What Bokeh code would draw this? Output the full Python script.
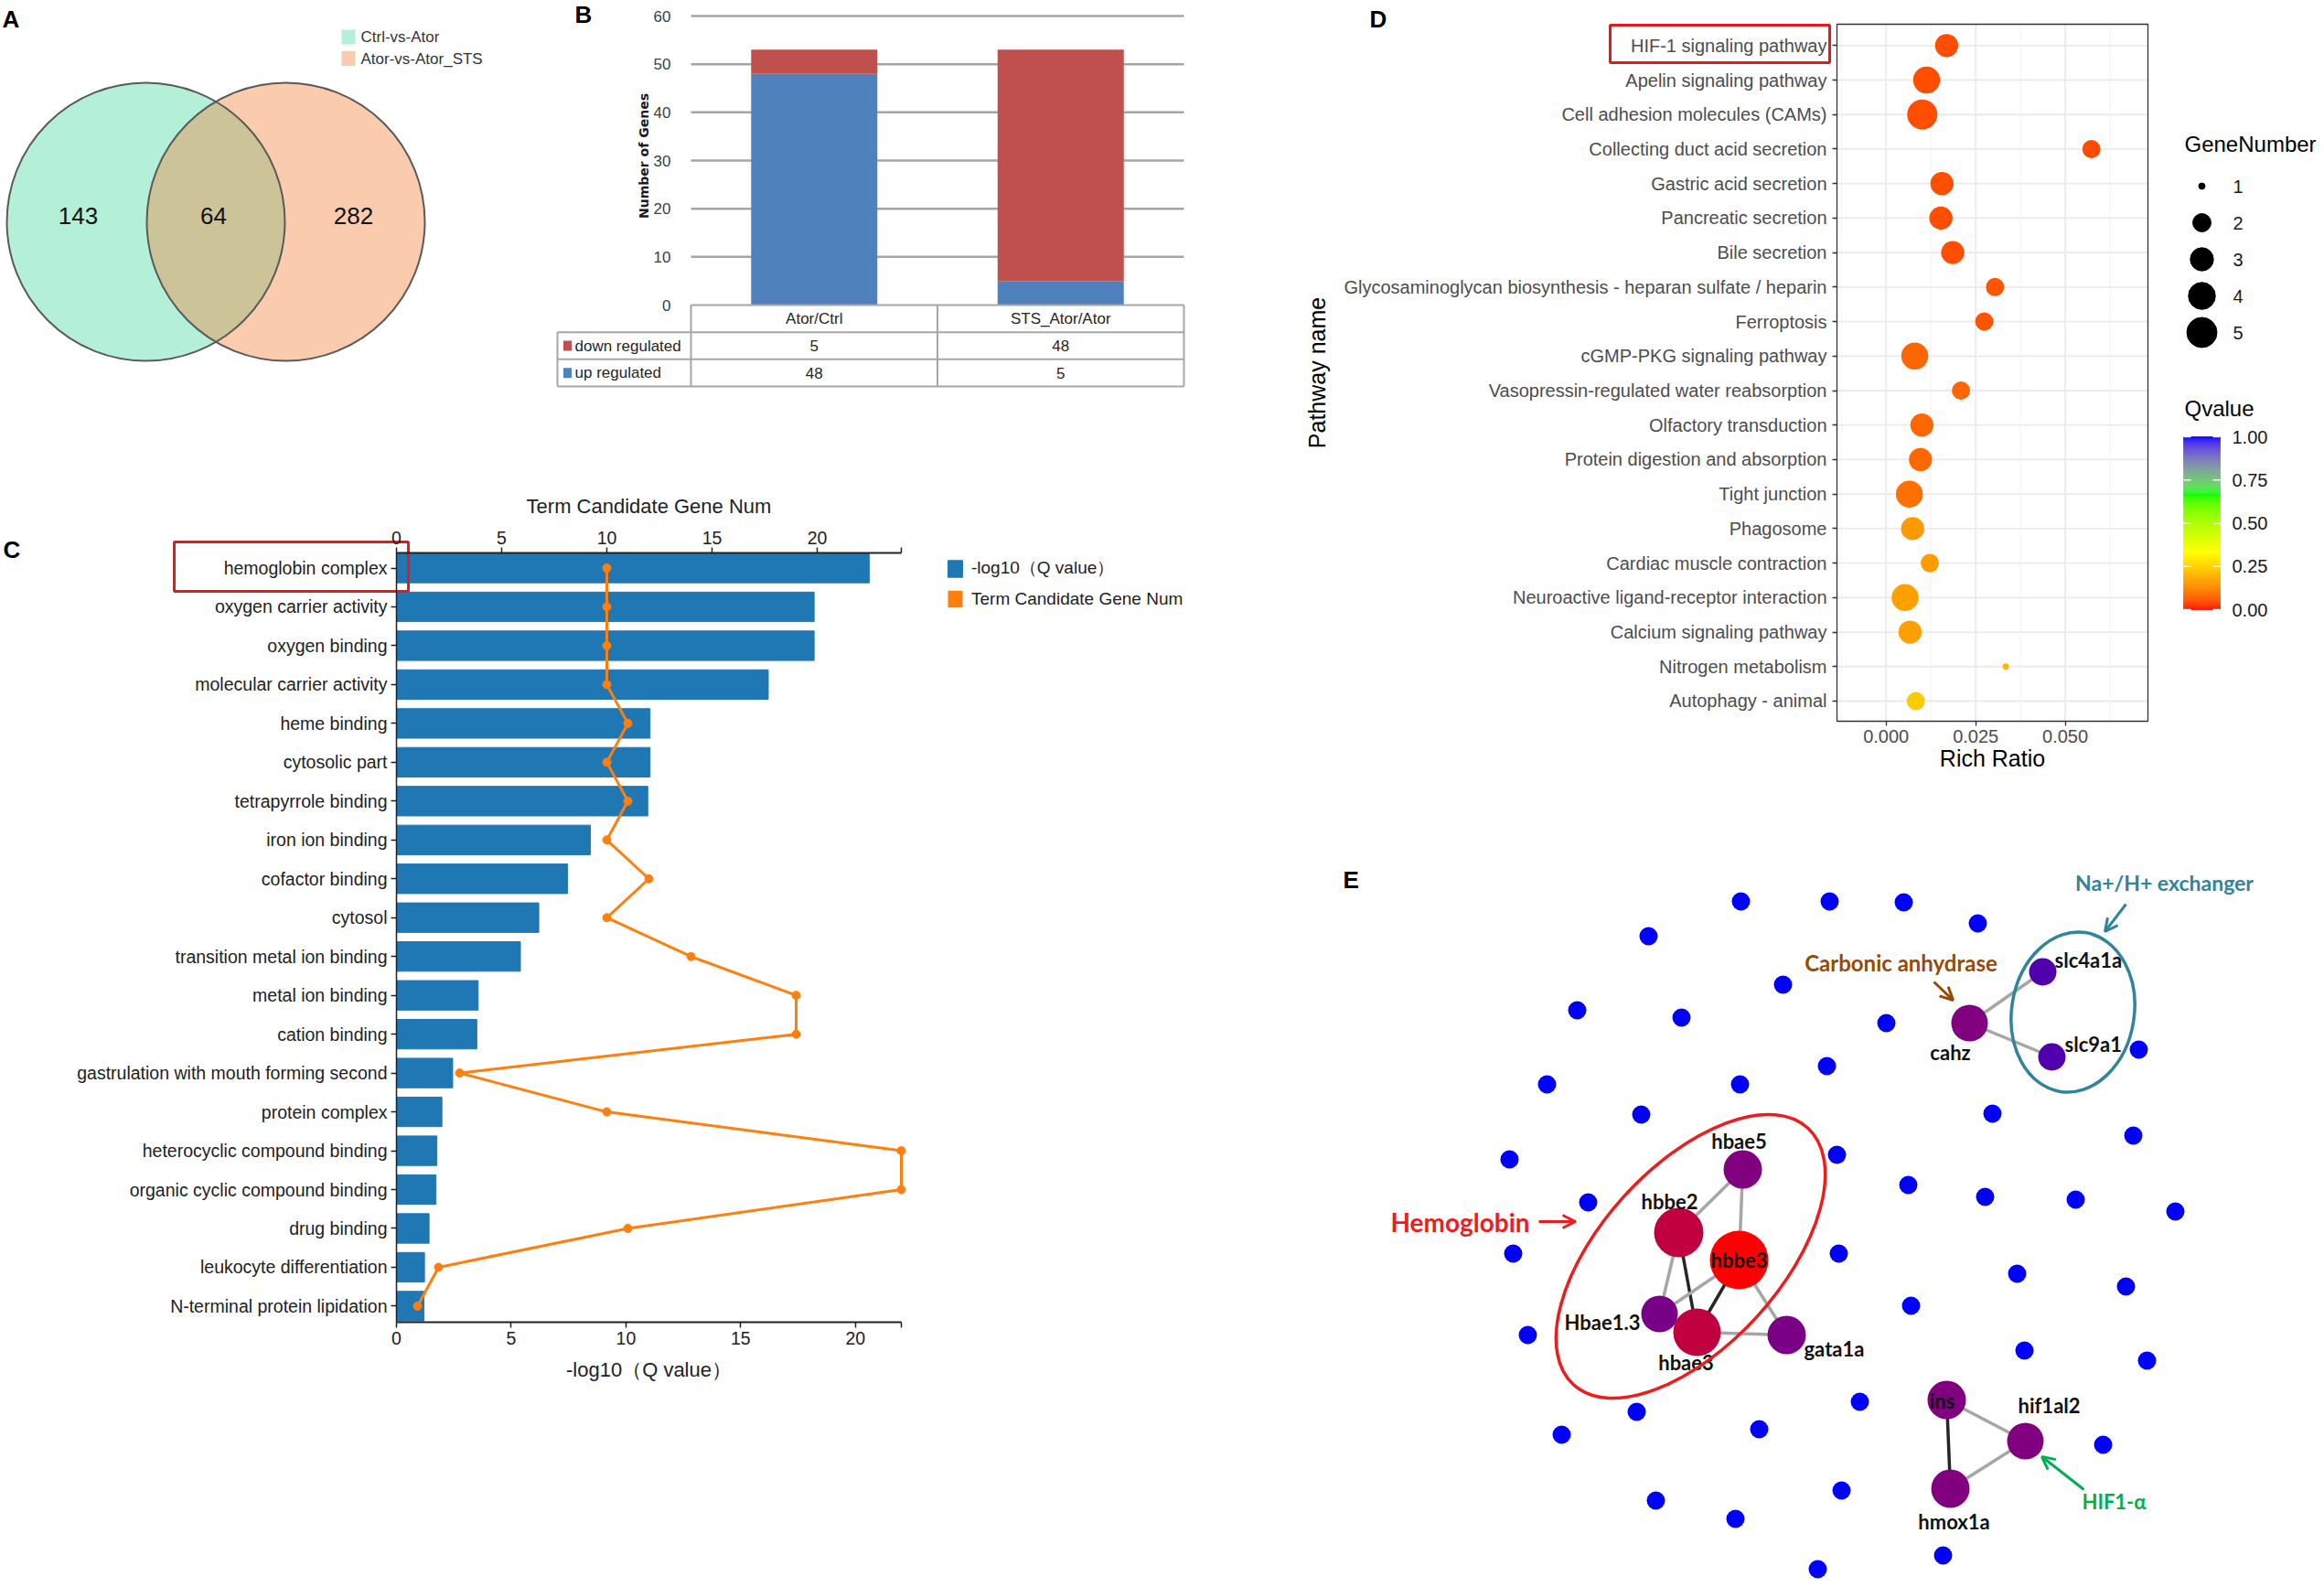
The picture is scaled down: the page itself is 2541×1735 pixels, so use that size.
import numpy as np
from bokeh.plotting import figure
from bokeh.layouts import row, column
from bokeh.models import (ColumnDataSource, Range1d, LinearAxis, FixedTicker, Legend, LegendItem,
                          Arrow, OpenHead, PrintfTickFormatter)
from bokeh.transform import linear_cmap
from bokeh.core.properties import value
from bokeh.embed import file_html
from bokeh.resources import INLINE

# ======================= DATA =======================
# A  Venn
venn_names = ["Ctrl-vs-Ator", "Ator-vs-Ator_STS"]
venn_counts = [143, 64, 282]          # left only, shared, right only

# B  DEG counts
deg_groups = ["Ator/Ctrl", "STS_Ator/Ator"]
deg_up = [48, 5]
deg_down = [5, 48]
deg_ticks = [0, 10, 20, 30, 40, 50, 60]

# C  GO enrichment
go_terms = ["hemoglobin complex", "oxygen carrier activity", "oxygen binding",
            "molecular carrier activity", "heme binding", "cytosolic part",
            "tetrapyrrole binding", "iron ion binding", "cofactor binding", "cytosol",
            "transition metal ion binding", "metal ion binding", "cation binding",
            "gastrulation with mouth forming second", "protein complex",
            "heterocyclic compound binding", "organic cyclic compound binding",
            "drug binding", "leukocyte differentiation", "N-terminal protein lipidation"]
go_neglogq = [20.6, 18.2, 18.2, 16.2, 11.05, 11.05, 10.95, 8.45, 7.45, 6.2,
              5.4, 3.56, 3.5, 2.45, 1.98, 1.76, 1.72, 1.42, 1.22, 1.2]
go_genes = [10, 10, 10, 10, 11, 10, 11, 10, 12, 10, 14, 19, 19, 3, 10, 24, 24, 11, 2, 1]
go_bottom_ticks = [0, 5, 10, 15, 20]
go_top_ticks = [0, 5, 10, 15, 20]

# D  KEGG enrichment
kegg_paths = ["HIF-1 signaling pathway", "Apelin signaling pathway",
              "Cell adhesion molecules (CAMs)", "Collecting duct acid secretion",
              "Gastric acid secretion", "Pancreatic secretion", "Bile secretion",
              "Glycosaminoglycan biosynthesis - heparan sulfate / heparin", "Ferroptosis",
              "cGMP-PKG signaling pathway", "Vasopressin-regulated water reabsorption",
              "Olfactory transduction", "Protein digestion and absorption", "Tight junction",
              "Phagosome", "Cardiac muscle contraction", "Neuroactive ligand-receptor interaction",
              "Calcium signaling pathway", "Nitrogen metabolism", "Autophagy - animal"]
kegg_ratio = [0.0169, 0.0113, 0.0101, 0.0573, 0.0156, 0.0153, 0.0186, 0.0304, 0.0274, 0.0080,
              0.0209, 0.0100, 0.0096, 0.0065, 0.0074, 0.0122, 0.0053, 0.0067, 0.0334, 0.0083]
kegg_genes = [3, 4, 5, 2, 3, 3, 3, 2, 2, 4, 2, 3, 3, 4, 3, 2, 4, 3, 1, 2]
kegg_q = [0.05, 0.05, 0.05, 0.045, 0.05, 0.05, 0.05, 0.055, 0.055, 0.075,
          0.075, 0.08, 0.08, 0.09, 0.155, 0.16, 0.165, 0.165, 0.2, 0.24]
kegg_x_ticks = [0.0, 0.025, 0.05]
kegg_x_minor = [-0.0125, 0.0125, 0.0375, 0.0625]
q_ticks = [0.0, 0.25, 0.5, 0.75, 1.0]

# E  interaction network (layout positions of the nodes)
hub_names = ["slc4a1a", "slc9a1", "cahz", "hbae5", "hbbe2", "hbbe3", "Hbae1.3", "hbae3",
             "gata1a", "ins", "hif1al2", "hmox1a"]
hub_x = [2233, 2243, 2153, 1905, 1835, 1901, 1814, 1855, 1953, 2128, 2214, 2132]
hub_y = [1062, 1155, 1118, 1278, 1347, 1377, 1436, 1456, 1459, 1530, 1575, 1627]
hub_r = [15, 15, 20, 21, 27, 32, 20, 26, 21, 21, 20, 21]
hub_score = [0.32, 0.32, 0.5, 0.5, 0.75, 1.0, 0.47, 0.75, 0.48, 0.5, 0.5, 0.5]
hub_edges = [("cahz", "slc4a1a", 0), ("cahz", "slc9a1", 0), ("hbae5", "hbbe2", 0),
             ("hbae5", "hbbe3", 0), ("hbbe2", "Hbae1.3", 0), ("hbbe2", "hbae3", 1),
             ("hbbe3", "Hbae1.3", 0), ("hbbe3", "hbae3", 1), ("hbbe3", "gata1a", 0),
             ("hbae3", "gata1a", 0), ("Hbae1.3", "hbae3", 1), ("ins", "hif1al2", 0),
             ("ins", "hmox1a", 1), ("hmox1a", "hif1al2", 0)]
bg_x = [1903, 2000, 2081, 2162, 1802, 1949, 1724, 1838, 2062, 1997, 2338, 1691, 1902, 1794,
        2178, 2332, 1650, 2008, 2086, 2170, 2269, 2378, 1736, 1654, 2010, 2205, 2324, 2089,
        1670, 2213, 2347, 2033, 1789, 1707, 1923, 2299, 1810, 2013, 1897, 2124, 1987]
bg_y = [985, 985, 986, 1009, 1023, 1076, 1104, 1112, 1118, 1165, 1147, 1185, 1185, 1218,
        1217, 1241, 1267, 1262, 1295, 1308, 1311, 1324, 1314, 1370, 1370, 1392, 1406, 1427,
        1459, 1476, 1487, 1532, 1543, 1568, 1562, 1579, 1640, 1629, 1660, 1700, 1715]

# ======================= HELPERS =======================
FONT = "Liberation Sans"
EFONT = "Lato"


def txt(p, xs, ys, texts, size, color="#000000", align="left", baseline="middle",
        bold=False, font=FONT, angle=0.0, **kw):
    return p.text(x=xs, y=ys, text=texts, text_font=value(font), text_font_size=size,
                  text_color=color, text_align=align, text_baseline=baseline,
                  text_font_style="bold" if bold else "normal", angle=angle, **kw)


def new_fig(w, h, xr, yr, axes=False, **kw):
    extra = {} if axes else dict(x_axis_type=None, y_axis_type=None)
    opts = dict(min_border=0)
    opts.update(kw)
    p = figure(width=w, height=h, x_range=xr, y_range=yr, output_backend="svg",
               toolbar_location=None, **extra, **opts)
    p.outline_line_color = None
    p.grid.visible = False
    return p


# Lab-space gradient (like ggplot2 gradientn) for the Qvalue scale
_M = np.array([[0.4124564, 0.3575761, 0.1804375],
               [0.2126729, 0.7151522, 0.0721750],
               [0.0193339, 0.1191920, 0.9503041]])
_MI = np.linalg.inv(_M)
_W = np.array([0.95047, 1.0, 1.08883])


def rgb2lab(rgb):
    c = np.array(rgb) / 255.0
    lin = np.where(c <= 0.04045, c / 12.92, ((c + 0.055) / 1.055) ** 2.4)
    xyz = _M @ lin / _W
    f = np.where(xyz > (6 / 29) ** 3, np.cbrt(xyz), xyz / (3 * (6 / 29) ** 2) + 4 / 29)
    return np.array([116 * f[1] - 16, 500 * (f[0] - f[1]), 200 * (f[1] - f[2])])


def lab2hex(lab):
    L, a, b = lab
    fy = (L + 16) / 116
    f = np.array([fy + a / 500, fy, fy - b / 200])
    xyz = np.where(f > 6 / 29, f ** 3, 3 * (6 / 29) ** 2 * (f - 4 / 29)) * _W
    lin = np.clip(_MI @ xyz, 0, 1)
    c = np.where(lin <= 0.0031308, 12.92 * lin, 1.055 * lin ** (1 / 2.4) - 0.055)
    c = np.clip(c, 0, 1) * 255
    return "#%02x%02x%02x" % tuple(int(round(v)) for v in c)


stops = [0.0, 1 / 3, 2 / 3, 1.0]
stop_cols = [rgb2lab(c) for c in [(255, 0, 0), (255, 255, 0), (0, 255, 0), (0, 0, 255)]]
q_palette = []
for v in np.linspace(0, 1, 256):
    k = min(int(v * 3), 2)
    t = (v - stops[k]) / (stops[k + 1] - stops[k])
    q_palette.append(lab2hex(stop_cols[k] * (1 - t) + stop_cols[k + 1] * t))

# ======================= PANEL A (Venn) =======================
pA = new_fig(600, 440, Range1d(0, 600), Range1d(440, 0))
cA = [(159.0, 242.0), (312.0, 242.0)]
rA = 152.0
GREEN, PEACH, OLIVE = "#B4EFD7", "#FBCBAE", "#CCC398"
pA.circle(x=[cA[0][0]], y=[cA[0][1]], radius=rA, fill_color=GREEN, line_color=None)
pA.circle(x=[cA[1][0]], y=[cA[1][1]], radius=rA, fill_color=PEACH, line_color=None)
dA = cA[1][0] - cA[0][0]
thA = np.arccos(dA / 2 / rA)
a1 = np.linspace(-thA, thA, 90)
a2 = np.linspace(np.pi - thA, np.pi + thA, 90)
lens_x = np.concatenate([cA[0][0] + rA * np.cos(a1), cA[1][0] + rA * np.cos(a2)])
lens_y = np.concatenate([cA[0][1] + rA * np.sin(a1), cA[1][1] + rA * np.sin(a2)])
pA.patch(lens_x, lens_y, fill_color=OLIVE, line_color=None)
pA.circle(x=[c[0] for c in cA], y=[c[1] for c in cA], radius=rA, fill_color=None,
          line_color="#5A5A5A", line_width=2)
txt(pA, [85, 233, 386], [235, 235, 235], [str(v) for v in venn_counts], "26px",
    color="#111111", align="center")
pA.rect(x=[380.5, 380.5], y=[40, 63.5], width=15, height=16, fill_color=[GREEN, PEACH],
        line_color=None)
txt(pA, [394, 394], [40, 63.5], venn_names, "17px", color="#333333")
txt(pA, [2], [20], ["A"], "26px", bold=True)

# ======================= PANEL B (stacked bars + table) =======================
B_X0, B_CW, B_Y0, B_PPU = 755.0, 269.5, 333.0, 316.0 / 60.0


def bx(px):
    return (px - B_X0) / B_CW


def by(py):
    return (B_Y0 - py) / B_PPU


pB = new_fig(800, 440, Range1d(bx(600), bx(1400)), Range1d(by(440), by(0)), axes=True,
             x_axis_type=None)
pB.yaxis.fixed_location = 0
pB.yaxis.ticker = FixedTicker(ticks=deg_ticks)
pB.yaxis.axis_line_color = None
pB.yaxis.major_tick_line_color = None
pB.yaxis.minor_tick_line_color = None
pB.yaxis.major_label_standoff = 16
pB.yaxis.major_label_text_font = FONT
pB.yaxis.major_label_text_font_size = "17px"
pB.yaxis.major_label_text_color = "#404040"

nB = len(deg_groups)
srcB = ColumnDataSource(dict(x=[i + 0.5 for i in range(nB)], up=deg_up, down=deg_down))
pB.segment(x0=[0] * (len(deg_ticks) - 1), x1=[nB] * (len(deg_ticks) - 1), y0=deg_ticks[1:],
           y1=deg_ticks[1:], line_color="#A6A6A6", line_width=2.5)
pB.vbar_stack(["up", "down"], x="x", width=0.512, color=["#4F81BD", "#C0504D"], source=srcB,
              line_color=None)

row_h = 29.67 / B_PPU
tb = [0.0, -row_h, -2 * row_h, -3 * row_h]
lab_left = bx(609)
pB.segment(x0=[0, lab_left, lab_left, lab_left], x1=[nB] * 4, y0=tb, y1=tb,
           line_color="#A6A6A6", line_width=2)
pB.segment(x0=[lab_left] + list(range(nB + 1)), x1=[lab_left] + list(range(nB + 1)),
           y0=[tb[1]] + [tb[0]] * (nB + 1), y1=[tb[3]] * (nB + 2), line_color="#A6A6A6",
           line_width=2)
xsB = [i + 0.5 for i in range(nB)]
txt(pB, xsB, [(tb[0] + tb[1]) / 2] * nB, deg_groups, "17px", color="#262626", align="center")
txt(pB, xsB, [(tb[1] + tb[2]) / 2] * nB, [str(v) for v in deg_down], "17px", color="#262626",
    align="center")
txt(pB, xsB, [(tb[2] + tb[3]) / 2] * nB, [str(v) for v in deg_up], "17px", color="#262626",
    align="center")
pB.rect(x=[bx(620)] * 2, y=[(tb[1] + tb[2]) / 2, (tb[2] + tb[3]) / 2], width=9 / B_CW,
        height=11 / B_PPU, fill_color=["#C0504D", "#4F81BD"], line_color=None)
txt(pB, [bx(628)] * 2, [(tb[1] + tb[2]) / 2, (tb[2] + tb[3]) / 2],
    ["down regulated", "up regulated"], "17px", color="#262626")
txt(pB, [bx(703)], [by(170)], ["Number of Genes"], "14px", align="center", bold=True,
    font="DejaVu Sans", angle=np.pi / 2, color="#1a1a1a")
txt(pB, [bx(628)], [by(15)], ["B"], "26px", bold=True)

# ======================= PANEL C (GO bars + line) =======================
C_X0, C_PPU, C_PPU2, C_Y0, C_ROW = 433.0, 552.0 / 22.0, 552.0 / 24.0, 620.5, 42.47


def cx(px):
    return (px - C_X0) / C_PPU


def cy(py):
    return (py - C_Y0) / C_ROW


pC = new_fig(1400, 1294, Range1d(cx(0), cx(1400)), Range1d(cy(1734), cy(440)), axes=True)
pC.extra_x_ranges = {"gene": Range1d((0 - C_X0) / C_PPU2, (1400 - C_X0) / C_PPU2)}
c_top, c_bot = cy(604), cy(1445)
nC = len(go_terms)
idxC = list(range(nC))

botC = pC.below[0]
leftC = pC.left[0]
leftC.fixed_location = 0
leftC.bounds = (c_top, c_bot)
leftC.ticker = FixedTicker(ticks=idxC)
leftC.major_label_overrides = {i: t for i, t in enumerate(go_terms)}

botC.fixed_location = c_bot
botC.bounds = (0, 22)
botC.ticker = FixedTicker(ticks=go_bottom_ticks + [22])
botC.major_label_overrides = {22: ""}
botC.axis_label = "-log10（Q value）"

topC = LinearAxis(x_range_name="gene", fixed_location=c_top, bounds=(0, 24),
                  ticker=FixedTicker(ticks=go_top_ticks + [24]), major_label_overrides={24: ""},
                  axis_label="Term Candidate Gene Num")
pC.add_layout(topC, "above")

for ax in [botC, leftC, topC]:
    ax.axis_line_color = "#222222"
    ax.axis_line_width = 2
    ax.major_tick_line_color = "#222222"
    ax.major_tick_line_width = 1.5
    ax.major_tick_out = 6
    ax.major_tick_in = 0
    ax.minor_tick_line_color = None
    ax.major_label_text_font = FONT
    ax.major_label_text_font_size = "19.5px"
    ax.major_label_text_color = "#222222"
    ax.major_label_standoff = 4
    ax.axis_label_text_font = FONT
    ax.axis_label_text_font_size = "22px"
    ax.axis_label_text_font_style = "normal"
    ax.axis_label_text_color = "#222222"
    ax.axis_label_standoff = 12
leftC.axis_line_width = 1.5

srcC = ColumnDataSource(dict(idx=idxC, q=go_neglogq, genes=go_genes))
barsC = pC.hbar(y="idx", left=0, right="q", height=0.76, color="#1F77B4", source=srcC)
pC.line(x="genes", y="idx", x_range_name="gene", line_color="#FF7F0E", line_width=3,
        source=srcC)
pC.scatter(x="genes", y="idx", x_range_name="gene", size=9, color="#FF7F0E", source=srcC)
proxyC = pC.hbar(y=[-100], left=[0], right=[0], height=0.76, fill_color="#FF7F0E",
                 line_color=None)
legC = Legend(items=[LegendItem(label="-log10（Q value）", renderers=[barsC]),
                     LegendItem(label="Term Candidate Gene Num", renderers=[proxyC])],
              location=(1034, 1734 - 666), glyph_width=20, glyph_height=23, spacing=9,
              padding=0, margin=0, label_standoff=8, label_text_font=FONT,
              label_text_font_size="19px", label_text_color="#222222",
              border_line_color=None, background_fill_alpha=0)
pC.add_layout(legC)
pC.quad(left=[cx(190)], right=[cx(446)], top=[cy(592)], bottom=[cy(646)], fill_color=None,
        line_color="#E3191C", line_width=3)
txt(pC, [cx(3)], [cy(600)], ["C"], "26px", bold=True)

# ======================= PANEL D (KEGG bubble + legends) =======================
D_X0, D_PPU, D_Y0, D_ROW = 2061.7, 3918.0, 49.3, 37.72


def dx(px):
    return (px - D_X0) / D_PPU


def dy(py):
    return (py - D_Y0) / D_ROW


def gg_size(n, lo, hi):
    s = 1 + 5 * np.sqrt((n - lo) / (hi - lo))
    return 1.83 * (2.845 * s + 0.945)


gmin, gmax = min(kegg_genes), max(kegg_genes)
nD = len(kegg_paths)
pD = new_fig(1140, 880, Range1d(dx(1400), dx(2540)), Range1d(dy(880), dy(0)), axes=True)
pL, pR, pT, pBt = dx(2008), dx(2348), dy(26), dy(788)

# panel grid (theme_bw)
pD.segment(x0=kegg_x_minor, x1=kegg_x_minor, y0=[pT] * len(kegg_x_minor),
           y1=[pBt] * len(kegg_x_minor), line_color="#F3F3F3", line_width=1)
pD.segment(x0=kegg_x_ticks, x1=kegg_x_ticks, y0=[pT] * len(kegg_x_ticks),
           y1=[pBt] * len(kegg_x_ticks), line_color="#EBEBEB", line_width=1.8)
pD.segment(x0=[pL] * nD, x1=[pR] * nD, y0=list(range(nD)), y1=list(range(nD)),
           line_color="#EBEBEB", line_width=1.8)
pD.quad(left=[pL], right=[pR], top=[pT], bottom=[pBt], fill_color=None,
        line_color="#333333", line_width=1.3)

xD, yD = pD.below[0], pD.left[0]
xD.fixed_location = pBt
xD.bounds = (pL, pR)
xD.ticker = FixedTicker(ticks=kegg_x_ticks)
xD.formatter = PrintfTickFormatter(format="%.3f")
yD.fixed_location = pL
yD.bounds = (pT, pBt)
yD.ticker = FixedTicker(ticks=list(range(nD)))
yD.major_label_overrides = {i: t for i, t in enumerate(kegg_paths)}
for ax in [xD, yD]:
    ax.axis_line_color = None
    ax.major_tick_line_color = "#333333"
    ax.major_tick_line_width = 1.3
    ax.major_tick_out = 5
    ax.major_tick_in = 0
    ax.minor_tick_line_color = None
    ax.major_label_text_font = FONT
    ax.major_label_text_font_size = "20px"
    ax.major_label_text_color = "#4D4D4D"
    ax.axis_label_text_font = FONT
    ax.axis_label_text_font_size = "25px"
    ax.axis_label_text_font_style = "normal"
    ax.axis_label_text_color = "#000000"
xD.major_label_standoff = 4
yD.major_label_standoff = 6
xD.axis_label = "Rich Ratio"
xD.axis_label_standoff = 0
yD.axis_label = "Pathway name"
yD.axis_label_standoff = 12

srcD = ColumnDataSource(dict(idx=list(range(nD)), ratio=kegg_ratio, q=kegg_q,
                             dsize=[gg_size(g, gmin, gmax) for g in kegg_genes]))
pD.scatter(x="ratio", y="idx", size="dsize", source=srcD, line_color=None,
           fill_color=linear_cmap("q", q_palette, 0, 1))
txt(pD, [dx(1497)], [dy(20)], ["D"], "26px", bold=True)
pD.quad(left=[dx(1760)], right=[dx(2000)], top=[dy(27)], bottom=[dy(68)], fill_color=None,
        line_color="#E3191C", line_width=3)

# size legend
levels = list(range(gmin, gmax + 1))
ky = [dy(203 + 40 * i) for i in range(len(levels))]
pD.scatter(x=[dx(2407)] * len(levels), y=ky, size=[gg_size(g, gmin, gmax) for g in levels],
           color="#000000")
txt(pD, [dx(2441)] * len(levels), ky, [str(g) for g in levels], "20px", color="#1A1A1A")
txt(pD, [dx(2388)], [dy(157)], ["GeneNumber"], "24px")

# colour bar
CB_BOT, CB_LEN = 666.0, 189.0
qg = np.linspace(0, 1, len(q_palette) + 1)
pD.quad(left=[dx(2387)] * len(q_palette), right=[dx(2427)] * len(q_palette),
        bottom=[dy(CB_BOT - q * CB_LEN) for q in qg[:-1]],
        top=[dy(CB_BOT - q * CB_LEN) for q in qg[1:]],
        fill_color=q_palette, line_color=q_palette, line_width=0.6)
qty = [dy(CB_BOT - q * CB_LEN) for q in q_ticks]
pD.segment(x0=[dx(2387)] * 5, x1=[dx(2395)] * 5, y0=qty, y1=qty, line_color="white",
           line_width=1.5)
pD.segment(x0=[dx(2419)] * 5, x1=[dx(2427)] * 5, y0=qty, y1=qty, line_color="white",
           line_width=1.5)
txt(pD, [dx(2440)] * 5, qty, ["%.2f" % q for q in q_ticks], "20px", color="#1A1A1A")
txt(pD, [dx(2388)], [dy(446)], ["Qvalue"], "24px")

# ======================= PANEL E (network) =======================
pE = new_fig(1140, 854, Range1d(1400, 2540), Range1d(1734, 880))
e_palette = ["#%02x00%02x" % (int(round(255 * t)), int(round(255 * (1 - t))))
             for t in np.linspace(0, 1, 256)]
pos = {n: (x, y) for n, x, y in zip(hub_names, hub_x, hub_y)}
pE.segment(x0=[pos[a][0] for a, b, s in hub_edges], y0=[pos[a][1] for a, b, s in hub_edges],
           x1=[pos[b][0] for a, b, s in hub_edges], y1=[pos[b][1] for a, b, s in hub_edges],
           line_color=["#262626" if s else "#A6A6A6" for a, b, s in hub_edges], line_width=3.5)
pE.circle(x=bg_x, y=bg_y, radius=10, fill_color=e_palette[0], line_color=None)
srcE = ColumnDataSource(dict(x=hub_x, y=hub_y, r=hub_r, score=hub_score))
pE.circle(x="x", y="y", radius="r", source=srcE, line_color=None,
          fill_color=linear_cmap("score", e_palette, 0, 1))

lab_pos = {"slc4a1a": (2246, 1049, "left"), "slc9a1": (2257, 1141, "left"),
           "cahz": (2132, 1150, "center"), "hbae5": (1901, 1247, "center"),
           "hbbe2": (1825, 1313, "center"), "hbbe3": (1901, 1377, "center"),
           "Hbae1.3": (1793, 1445, "right"), "hbae3": (1843, 1489, "center"),
           "gata1a": (1972, 1474, "left"), "ins": (2123, 1531, "center"),
           "hif1al2": (2240, 1536, "center"), "hmox1a": (2136, 1663, "center")}
for al in ["left", "center", "right"]:
    nm = [n for n in hub_names if lab_pos[n][2] == al]
    txt(pE, [lab_pos[n][0] for n in nm], [lab_pos[n][1] for n in nm], nm, "22px",
        color="#111111", align=al, bold=True, font=EFONT)

pE.ellipse(x=[1848], y=[1373], width=[380], height=[196], angle=[np.radians(47.6)],
           fill_color=None, line_color="#EE1C1C", line_width=3.5)
pE.ellipse(x=[2266], y=[1106], width=[176], height=[134], angle=[np.radians(81)],
           fill_color=None, line_color="#31849B", line_width=3.5)

notes = [("Na+/H+ exchanger", 2366, 964, "#31849B", "23px"),
         ("Carbonic anhydrase", 2078, 1052, "#984807", "24px"),
         ("Hemoglobin", 1596, 1335, "#EE1C1C", "28px"),
         ("HIF1-α", 2311, 1641, "#00B050", "22px")]
for t, x, y, c, s in notes:
    txt(pE, [x], [y], [t], s, color=c, align="center", bold=True, font=EFONT)
arrows = [((2324, 988), (2301, 1018), "#31849B"), ((2114, 1073), (2135, 1093), "#984807"),
          ((1682, 1335), (1722, 1335), "#EE1C1C"), ((2278, 1628), (2232, 1592), "#00B050")]
for (x0, y0), (x1, y1), c in arrows:
    pE.add_layout(Arrow(end=OpenHead(size=14, line_color=c, line_width=3), x_start=x0,
                        y_start=y0, x_end=x1, y_end=y1, line_color=c, line_width=3))
txt(pE, [1468], [961], ["E"], "26px", bold=True)

# ======================= LAYOUT =======================
left = column(row(pA, pB, spacing=0), pC, spacing=0)
right = column(pD, pE, spacing=0)
layout = row(left, right, spacing=0)

open("out.html", "w").write(file_html(layout, INLINE))
